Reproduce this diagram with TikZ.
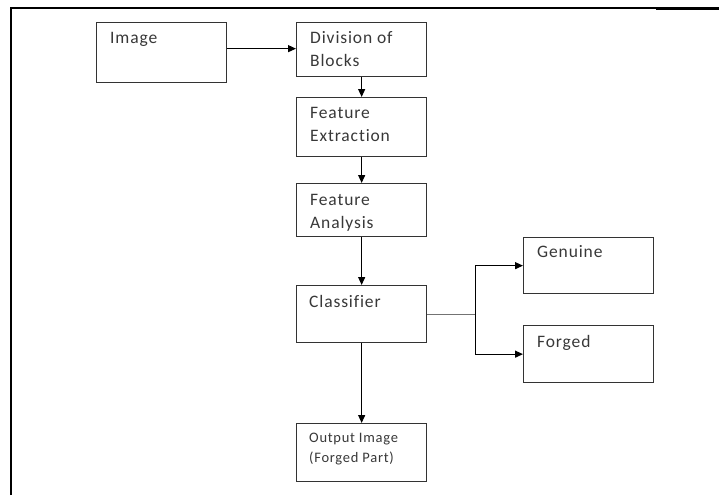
\documentclass[tikz,border=0pt]{standalone}
\usepackage{fontspec}
\setmainfont{Carlito}[LetterSpace=5,Ligatures=CommonOff]
\usetikzlibrary{arrows.meta,calc}
\tikzset{
  blk/.style={draw=black!80, line width=1.3pt, minimum width=130pt, inner sep=0pt, anchor=north west},
  txt/.style={anchor=north west, inner sep=0pt, align=left, text=black!78, font=\fontsize{17.5}{23}\selectfont},
  smalltxt/.style={txt, font=\fontsize{14.5}{20}\selectfont},
  arr/.style={draw=black, line width=1.2pt, -{Triangle[length=8pt,width=7pt]}},
  link/.style={draw=black!55, line width=1.3pt},
  frame/.style={draw=black, line width=1.3pt},
  framethick/.style={draw=black, line width=2.2pt}
}
\begin{document}
\begin{tikzpicture}[x=1pt,y=-1pt]
\useasboundingbox (0,0) rectangle (719,495);
% frame
\coordinate (ftl) at (11,8);
\coordinate (ftr) at (719,8);
\coordinate (fbl) at (11,495);
\draw[frame] (ftr) -- (ftl);
\draw[framethick] (fbl) -- (ftl) -- ++(79,0);
\draw[framethick] (656,9) coordinate (frs) -- (719,9) coordinate (fre);
% boxes
\node[blk, minimum height=60pt] (img) at (96,22) {};
\node[blk, minimum height=54pt] (div) at (296,22) {};
\node[blk, minimum height=59pt] (fe) at (296,97) {};
\node[blk, minimum height=53pt] (fa) at (296,183) {};
\node[blk, minimum height=57pt] (cls) at (296,285) {};
\node[blk, minimum height=58pt] (out) at (296,423) {};
\node[blk, minimum height=56pt] (gen) at (523,237) {};
\node[blk, minimum height=57pt] (forg) at (523,325) {};
% texts
\node[txt] (timg) at ([xshift=14pt,yshift=-5pt]img.north west) {\strut Image};
\node[txt] (tdiv) at ([xshift=14pt,yshift=-5pt]div.north west) {\strut Division of\\Blocks};
\node[txt] (tfe) at ([xshift=14pt,yshift=-5pt]fe.north west) {\strut Feature\\Extraction};
\node[txt] (tfa) at ([xshift=14pt,yshift=-6pt]fa.north west) {\strut Feature\\Analysis};
\node[txt] (tcls) at ([xshift=13pt,yshift=-6pt]cls.north west) {\strut Classifier};
\node[txt] (tgen) at ([xshift=14pt,yshift=-4pt]gen.north west) {\strut Genuine};
\node[txt] (tforg) at ([xshift=14pt,yshift=-6pt]forg.north west) {\strut Forged};
\node[smalltxt] (tout) at ([xshift=13pt,yshift=-5pt]out.north west) {\strut Output Image\\(Forged Part)};
% connectors
\draw[arr] ([yshift=4pt]img.east) -- ([yshift=4pt]img.east -| div.west);
\draw[arr] (div.south) -- (fe.north);
\draw[arr] (fe.south) -- (fa.north);
\draw[arr] (fa.south) -- (cls.north);
\draw[arr] (cls.south) -- (out.north);
\coordinate (j) at ([xshift=48pt]cls.east);
\draw[link] (cls.east) -- (j);
\draw[arr] (j) |- (gen.west);
\draw[arr] (j) |- (forg.west);
\end{tikzpicture}
\end{document}
